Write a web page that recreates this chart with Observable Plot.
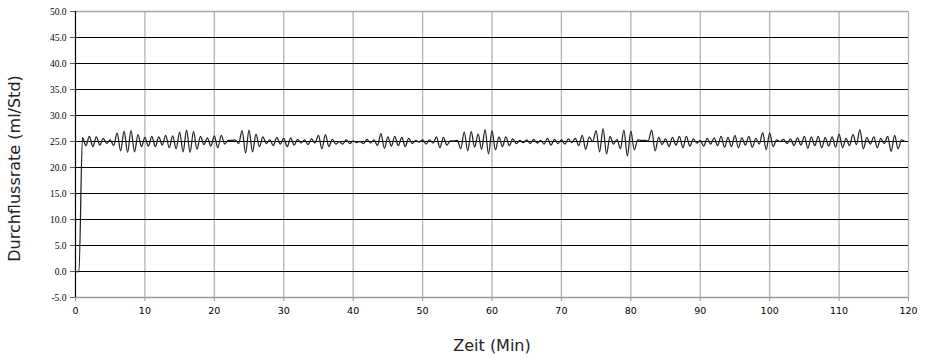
<!DOCTYPE html>
<html>
<head>
<meta charset="utf-8">
<script src="https://cdn.jsdelivr.net/npm/d3@7"></script>
<script src="https://cdn.jsdelivr.net/npm/@observablehq/plot@0.6"></script>
<style>
  html, body { margin: 0; padding: 0; background: #fff; }
</style>
</head>
<body>
<div id="chart"></div>
<script>
// Sampling interval of the recording (minutes)
const sampleMinutes = 0.5;

// Flow rate readings (ml/Std), one per half minute
const flowRate = [
  0, 0, 25.8, 24.2, 26.0, 24.0, 25.9, 24.3, 25.6, 24.6, 25.3, 24.2, 26.6, 23.2, 27.0, 22.9, 27.1, 23.0, 26.3, 24.0,
  25.8, 24.1, 26.0, 24.0, 25.9, 24.3, 26.2, 23.8, 26.1, 23.6, 26.8, 23.0, 27.2, 22.9, 26.9, 23.5, 26.0, 24.4, 25.7, 24.1,
  26.1, 23.8, 26.2, 24.5, 25.2, 25.2, 25.3, 24.6, 27.1, 22.8, 27.2, 23.0, 26.4, 24.0, 25.9, 24.6, 25.3, 24.2, 25.8, 24.5,
  25.6, 24.0, 25.7, 24.3, 25.4, 24.7, 25.3, 24.4, 25.5, 24.7, 26.2, 23.6, 26.3, 24.0, 25.4, 24.5, 25.0, 24.5, 25.3, 24.6,
  25.1, 24.8, 25.0, 24.6, 25.4, 24.7, 25.3, 24.2, 26.5, 23.7, 25.9, 24.1, 26.0, 24.2, 25.8, 24.0, 25.6, 24.6, 25.2, 24.9,
  25.3, 24.5, 25.3, 24.7, 25.9, 23.8, 25.8, 24.3, 25.1, 25.1, 25.2, 23.6, 26.8, 23.2, 26.9, 23.9, 26.4, 23.5, 27.3, 22.6,
  27.1, 23.4, 25.9, 24.0, 25.9, 24.2, 25.5, 24.6, 25.2, 24.8, 25.3, 24.6, 25.4, 24.7, 25.2, 24.5, 25.6, 24.3, 25.4, 24.6,
  25.3, 24.5, 25.5, 24.8, 25.6, 24.2, 26.2, 23.5, 25.9, 25.0, 27.1, 23.0, 27.5, 22.6, 26.0, 24.5, 25.4, 23.6, 27.2, 22.2,
  27.0, 23.4, 25.3, 25.2, 25.2, 25.1, 27.2, 23.2, 25.8, 24.4, 25.5, 24.0, 25.8, 24.3, 26.0, 23.8, 26.0, 24.1, 25.5, 24.7,
  25.2, 24.1, 25.6, 24.5, 25.7, 24.2, 26.0, 23.9, 25.8, 24.0, 26.2, 23.8, 25.7, 24.3, 26.0, 23.9, 25.6, 24.5, 26.7, 23.4,
  26.6, 24.0, 25.3, 25.0, 25.4, 24.6, 25.5, 24.2, 25.7, 24.3, 26.0, 23.7, 25.9, 24.2, 26.0, 23.8, 25.8, 24.1, 25.9, 23.9,
  26.4, 23.8, 25.6, 24.2, 26.3, 24.4, 27.3, 23.6, 25.8, 24.5, 25.9, 23.8, 25.6, 24.6, 26.0, 23.1, 26.2, 23.6, 25.3, 25.0
];

// Axis ticks
const xTicks = [0, 10, 20, 30, 40, 50, 60, 70, 80, 90, 100, 110, 120];
const yTicks = [-5, 0, 5, 10, 15, 20, 25, 30, 35, 40, 45, 50];
const yDarkGrid = [0, 5, 10, 15, 20, 25, 30, 35, 40, 45];
const xGrid = [10, 20, 30, 40, 50, 60, 70, 80, 90, 100, 110, 120];

const xTitle = "Zeit (Min)";
const yTitle = "Durchflussrate (ml/Std)";

const data = flowRate.map((v, i) => ({ t: i * sampleMinutes, v }));

const chart = Plot.plot({
  width: 927,
  height: 363,
  marginLeft: 75,
  marginRight: 19,
  marginTop: 11,
  marginBottom: 66,
  style: { fontFamily: "DejaVu Sans", background: "#fff", overflow: "visible" },
  x: { domain: [0, 120] },
  y: { domain: [-5, 50] },
  marks: [
    Plot.ruleX(xGrid, { stroke: "#b4b4b4", strokeWidth: 1.3 }),
    Plot.ruleY([50], { stroke: "#a8a8a8", strokeWidth: 1.3 }),
    Plot.ruleY(yDarkGrid, { stroke: "#000", strokeWidth: 1.2 }),
    Plot.ruleY([-5], { stroke: "#999", strokeWidth: 1.3 }),
    Plot.line(data, { x: "t", y: "v", stroke: "#222", strokeWidth: 1.25, curve: "monotone-x" }),
    Plot.ruleX([0], { stroke: "#000", strokeWidth: 1.2 }),
    Plot.axisY({
      ticks: yTicks, tickFormat: d => d.toFixed(1), tickSize: 5, tickPadding: 4,
      fontFamily: "Liberation Serif", fontSize: 9.5, label: null, stroke: "#555"
    }),
    Plot.axisX({
      ticks: xTicks, tickFormat: d => String(d), tickSize: 4, tickPadding: 6,
      fontFamily: "DejaVu Sans", fontSize: 9.5, label: null, stroke: "#999"
    }),
    Plot.text([yTitle], {
      frameAnchor: "left", dx: -61, dy: 14, rotate: -90, fontSize: 16,
      fontFamily: "DejaVu Sans", fill: "#222", textAnchor: "middle"
    }),
    Plot.text([xTitle], {
      frameAnchor: "bottom", dy: 53, fontSize: 16,
      fontFamily: "DejaVu Sans", fill: "#222", textAnchor: "middle"
    })
  ]
});

document.getElementById("chart").appendChild(chart);
</script>
</body>
</html>
